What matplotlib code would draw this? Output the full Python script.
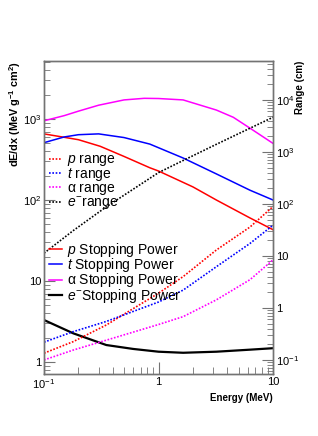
import numpy as np
import matplotlib
matplotlib.use("Agg")
import matplotlib.pyplot as plt
from matplotlib.ticker import FixedLocator, FuncFormatter, LogLocator, NullFormatter

plt.rcParams['font.family'] = ['Liberation Sans', 'DejaVu Sans']
plt.rcParams['mathtext.fontset'] = 'custom'
plt.rcParams['mathtext.rm'] = 'Liberation Sans'
plt.rcParams['mathtext.it'] = 'Liberation Sans:italic'
plt.rcParams['mathtext.bf'] = 'Liberation Sans:bold'

# stopping power (MeV g^-1 cm^2), left axis
E_p_sp = [0.1, 0.2, 0.31, 0.5, 0.84, 1.0, 2.0, 3.2, 6.3, 10]
p_sp = [655, 555, 460, 345, 250, 228, 145, 100, 60, 43]
E_t_sp = [0.1, 0.15, 0.2, 0.3, 0.5, 0.84, 1.64, 3.2, 6.3, 10]
t_sp = [510, 600, 640, 655, 590, 490, 330, 210, 132, 100]
E_a_sp = [0.1, 0.15, 0.2, 0.3, 0.5, 0.75, 1.0, 1.64, 3.2, 4.5, 6.3, 10]
a_sp = [950, 1100, 1250, 1480, 1720, 1800, 1790, 1720, 1290, 1050, 770, 500]
E_e_sp = [0.1, 0.18, 0.35, 0.6, 1.0, 1.64, 3.2, 6.3, 10]
e_sp = [3.3, 2.26, 1.62, 1.45, 1.34, 1.30, 1.34, 1.42, 1.48]

# range (cm), right axis
E_rng = [0.1, 0.18, 0.35, 1.0, 1.64, 3.2, 6.3, 10]
p_rng = [0.135, 0.225, 0.47, 1.92, 4.0, 13, 36, 89]
t_rng = [0.22, 0.35, 0.55, 1.3, 2.2, 6.2, 17.4, 39]
a_rng = [0.1, 0.155, 0.24, 0.48, 0.68, 1.43, 3.5, 8.4]
e_rng = [11.3, 30.7, 88, 400, 684, 1400, 2860, 4640]

cols = {'p': '#ff0000', 't': '#0000ff', 'a': '#ff00ff', 'e': '#000000'}
frame = '0.45'
dot = (0, (1, 1))

def logfmt(v, pos):
    if abs(v - 1) < 1e-9:
        return '1'
    if abs(v - 10) < 1e-9:
        return '10'
    return r'$\mathregular{10^{%d}}$' % int(round(np.log10(v)))

fig = plt.figure(figsize=(3.18, 4.36), dpi=100)
ax = fig.add_axes([44/318, 1-374/436, 229/318, 313/436])
ax2 = ax.twinx()

l_sp = []
l_sp += ax.plot(E_p_sp, p_sp, color=cols['p'], lw=1.1)
l_sp += ax.plot(E_t_sp, t_sp, color=cols['t'], lw=1.1)
l_sp += ax.plot(E_a_sp, a_sp, color=cols['a'], lw=1.1)
l_sp += ax.plot(E_e_sp, e_sp, color=cols['e'], lw=1.6)

l_r = []
l_r += ax2.plot(E_rng, p_rng, color=cols['p'], lw=1.2, ls=dot)
l_r += ax2.plot(E_rng, t_rng, color=cols['t'], lw=1.2, ls=dot)
l_r += ax2.plot(E_rng, a_rng, color=cols['a'], lw=1.2, ls=dot)
l_r += ax2.plot(E_rng, e_rng, color=cols['e'], lw=1.2, ls=dot)

ax.set_xscale('log')
ax.set_yscale('log')
ax2.set_yscale('log')
ax.set_xlim(0.1, 10)
ax.set_ylim(0.711, 5200)
ax2.set_ylim(0.0537, 56000)

for a in (ax, ax2):
    for s in a.spines.values():
        s.set_color(frame)
        s.set_linewidth(1.0)

ax.xaxis.set_major_locator(FixedLocator([0.1, 1, 10]))
ax.xaxis.set_major_formatter(FuncFormatter(logfmt))
ax.xaxis.set_minor_locator(LogLocator(base=10, subs=np.arange(2, 10)))
ax.xaxis.set_minor_formatter(NullFormatter())
ax.yaxis.set_major_locator(FixedLocator([1, 10, 100, 1000]))
ax.yaxis.set_major_formatter(FuncFormatter(logfmt))
ax.yaxis.set_minor_locator(LogLocator(base=10, subs=np.arange(2, 10)))
ax.yaxis.set_minor_formatter(NullFormatter())
ax2.yaxis.set_major_locator(FixedLocator([0.1, 1, 10, 100, 1000, 10000]))
ax2.yaxis.set_major_formatter(FuncFormatter(logfmt))
ax2.yaxis.set_minor_locator(LogLocator(base=10, subs=np.arange(2, 10)))
ax2.yaxis.set_minor_formatter(NullFormatter())

ax.tick_params(axis='both', which='both', direction='in', color=frame, labelsize=8, pad=2)
ax.tick_params(axis='x', which='major', length=9)
ax.tick_params(axis='x', which='minor', length=5)
ax.tick_params(axis='y', which='major', length=8)
ax.tick_params(axis='y', which='minor', length=4)
ax.tick_params(top=False, right=False, which='both')
ax2.tick_params(axis='y', which='both', direction='in', color=frame, labelsize=8, pad=2)
ax2.tick_params(axis='y', which='major', length=8)
ax2.tick_params(axis='y', which='minor', length=4)

ax.set_xlabel('Energy (MeV)', fontsize=7, fontweight='bold', loc='right', labelpad=2)
ax.set_ylabel(r'dE/dx (MeV g$^{\mathbf{-1}}$ cm$^{\mathbf{2}}$)', fontsize=7.8, fontweight='bold',
              loc='top')
ax.yaxis.set_label_coords(-0.092, 1.0)
ax2.set_ylabel('Range (cm)', fontsize=7, fontweight='bold', loc='top')
ax2.yaxis.set_label_coords(1.098, 1.0)

lab_r = [r'$p$ range', r'$t$ range', r'$\mathregular{\alpha}$ range', r'$e^{-}$range']
lab_sp = [r'$p$ Stopping Power', r'$t$ Stopping Power', r'$\mathregular{\alpha}$ Stopping Power',
          r'$e^{-}$Stopping Power']
leg1 = ax2.legend(l_r, lab_r, loc='upper left', bbox_to_anchor=(0.02, 0.708), frameon=False,
                  fontsize=10, handlelength=1.0, handletextpad=0.3, labelspacing=-0.15,
                  borderaxespad=0, borderpad=0)
leg2 = ax2.legend(l_sp, lab_sp, loc='upper left', bbox_to_anchor=(0.02, 0.425), frameon=False,
                  fontsize=10, handlelength=1.0, handletextpad=0.3, labelspacing=-0.2,
                  borderaxespad=0, borderpad=0)
ax2.add_artist(leg1)

fig.savefig('out.png', dpi=100)
